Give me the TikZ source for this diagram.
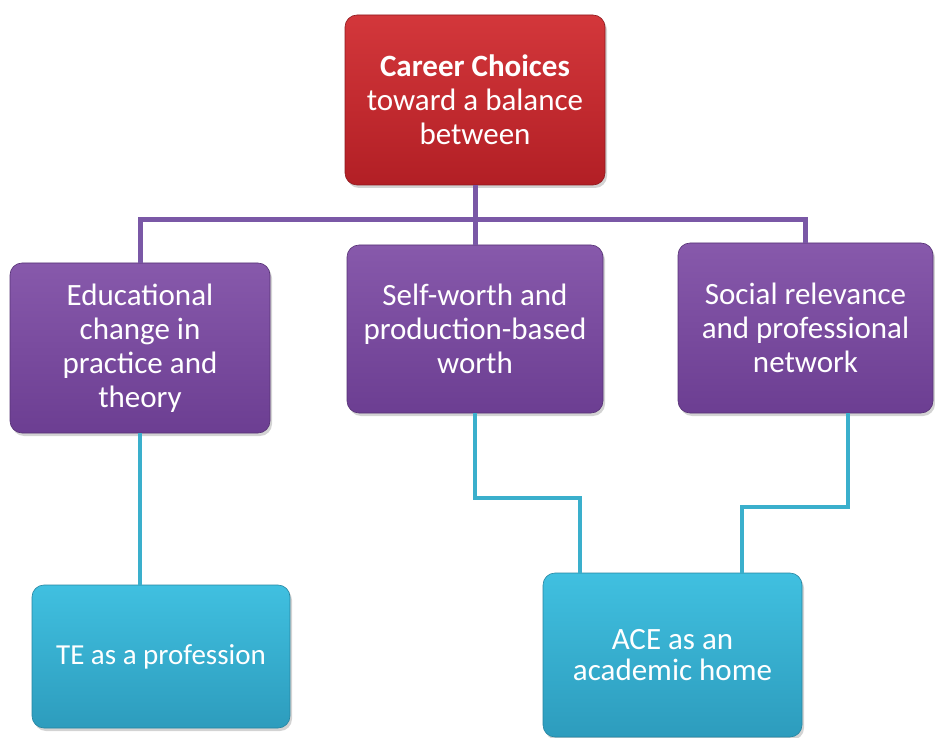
\documentclass[tikz,border=0pt]{standalone}
\usepackage{fontspec}
\setmainfont{Carlito}
\usetikzlibrary{shadows}
\definecolor{redtop}{HTML}{D3373B}
\definecolor{redbot}{HTML}{B21F25}
\definecolor{purtop}{HTML}{8759AB}
\definecolor{purbot}{HTML}{6C3E92}
\definecolor{cyatop}{HTML}{40C0E0}
\definecolor{cyabot}{HTML}{2D9CBD}
\definecolor{purline}{HTML}{7A58A6}
\definecolor{cyaline}{HTML}{3AAFCC}
\tikzset{
  box/.style={rounded corners=12pt, text=white, align=center,
    font=\fontsize{31}{34}\selectfont, inner sep=0pt,
    drop shadow={opacity=0.35, shadow xshift=2pt, shadow yshift=-3pt}},
  redbox/.style={box, top color=redtop, bottom color=redbot, draw=redbot!80!black, line width=0.6pt},
  purbox/.style={box, top color=purtop, bottom color=purbot, draw=purbot!80!black, line width=0.6pt},
  cyabox/.style={box, top color=cyatop, bottom color=cyabot, draw=cyabot!85!black, line width=0.6pt},
  pline/.style={draw=purline, line width=5pt},
  cline/.style={draw=cyaline, line width=4pt}
}
\begin{document}
\begin{tikzpicture}[x=1pt,y=-1pt]
\useasboundingbox (0,0) rectangle (935,738);
\coordinate (j) at (475,220);
\coordinate (m1) at (580,498);
\coordinate (m2) at (742,507);
\node[redbox, minimum width=260pt, minimum height=170pt] (red) at (475,100)
  {\textbf{Career Choices}\\toward a balance\\between};
\node[purbox, minimum width=260pt, minimum height=170pt] (p1) at (140,348)
  {Educational\\change in\\practice and\\theory};
\node[purbox, minimum width=256pt, minimum height=168pt] (p2) at (475,329)
  {Self-worth and\\production-based\\worth};
\node[purbox, minimum width=255pt, minimum height=170pt] (p3) at (805.5,328)
  {Social relevance\\and professional\\network};
\node[cyabox, minimum width=258pt, minimum height=143pt, font=\fontsize{29}{31}\selectfont] (c1) at (161,656.5)
  {TE as a profession};
\node[cyabox, minimum width=259pt, minimum height=164pt, font=\fontsize{31}{31}\selectfont] (c2) at (672.5,655)
  {ACE as an\\academic home};
\draw[pline] (red.south) -- (j);
\draw[pline] (p1.north) |- (j) -| (p3.north);
\draw[pline] (j) -- (p2.north);
\draw[cline] (p1.south) -- (p1.south |- c1.north);
\draw[cline] (p2.south) |- (m1) -- (m1 |- c2.north);
\draw[cline] ([xshift=42.5pt]p3.south) |- (m2) -- (m2 |- c2.north);
\end{tikzpicture}
\end{document}
